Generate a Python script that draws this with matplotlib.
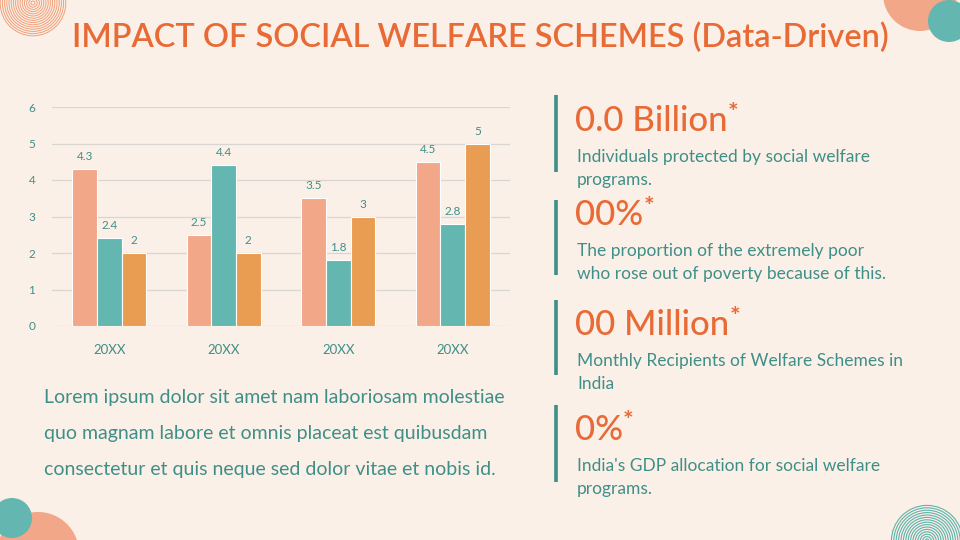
import matplotlib
matplotlib.use("Agg")
import matplotlib.pyplot as plt
from matplotlib.patches import Circle
import numpy as np

# data
categories = ["20XX", "20XX", "20XX", "20XX"]
series_1 = [4.3, 2.5, 3.5, 4.5]
series_2 = [2.4, 4.4, 1.8, 2.8]
series_3 = [2.0, 2.0, 3.0, 5.0]
y_ticks = [0, 1, 2, 3, 4, 5, 6]

stats = ["0.0 Billion", "00%", "00 Million", "0%"]
stat_notes = [
    "Individuals protected by social welfare\nprograms.",
    "The proportion of the extremely poor\nwho rose out of poverty because of this.",
    "Monthly Recipients of Welfare Schemes in\nIndia",
    "India's GDP allocation for social welfare\nprograms.",
]
body = ["Lorem ipsum dolor sit amet nam laboriosam molestiae",
        "quo magnam labore et omnis placeat est quibusdam",
        "consectetur et quis neque sed dolor vitae et nobis id."]

BG = "#FBF0E8"
SALMON = "#F2A788"
TEAL = "#64B6B0"
ORANGE = "#E99D52"
TITLE = "#E86A35"
TEXT = "#3E8F88"
W, H = 960, 540

plt.rcParams["font.family"] = ["Lato", "DejaVu Sans"]

fig = plt.figure(figsize=(9.6, 5.4), dpi=100, facecolor=BG)

# background layer for decorations (pixel coords)
bg = fig.add_axes([0, 0, 1, 1], zorder=0)
bg.set_xlim(0, W)
bg.set_ylim(H, 0)
bg.axis("off")
bg.add_patch(Circle((920, -6), 37, color=SALMON, lw=0))
bg.add_patch(Circle((949, 21), 21, color=TEAL, lw=0))
bg.add_patch(Circle((38, 553), 41, color=SALMON, lw=0))
bg.add_patch(Circle((12, 518), 20, color=TEAL, lw=0))
for r in np.arange(2, 34, 2.2):
    bg.add_patch(Circle((33, 3), r, fill=False, ec="#F0A07A", lw=0.7))
for r in np.arange(2, 38, 2.4):
    bg.add_patch(Circle((927, 541), r, fill=False, ec="#5FB3AC", lw=0.8))

# title
fig.text(0.5, 1 - 38 / H, "IMPACT OF SOCIAL WELFARE SCHEMES (Data-Driven)",
         ha="center", va="center", fontsize=23.4, fontweight="semibold", color=TITLE)

# bar chart
ax = fig.add_axes([52 / W, 1 - 326 / H, 458 / W, 219 / H], zorder=2)
ax.set_facecolor("none")
x = np.arange(len(categories))
bw = 0.215
for i, (vals, col) in enumerate([(series_1, SALMON), (series_2, TEAL), (series_3, ORANGE)]):
    bars = ax.bar(x + (i - 1) * bw, vals, bw, color=col, edgecolor="white", linewidth=0.8, zorder=3)
    for b, v in zip(bars, vals):
        ax.annotate(f"{v:g}", (b.get_x() + b.get_width() / 2, v), xytext=(0, 5),
                    textcoords="offset points", ha="center", va="bottom",
                    fontsize=8.5, color=TEXT)
ax.set_xlim(-0.5, len(categories) - 0.5)
ax.set_ylim(0, 6)
ax.set_yticks(y_ticks)
ax.set_xticks(x)
ax.set_xticklabels(categories)
ax.grid(axis="y", color="#D9D6D2", lw=0.9, zorder=0)
for s in ax.spines.values():
    s.set_visible(False)
ax.tick_params(length=0, colors=TEXT, labelsize=8.5)
ax.tick_params(axis="x", pad=13, labelsize=9.5)
ax.tick_params(axis="y", pad=12)

# body paragraph
for k, line in enumerate(body):
    fig.text(44 / W, 1 - (398 + 36 * k) / H, line, ha="left", va="center",
             fontsize=14, color=TEXT)

# stat blocks on the right
stat_y = [121, 215, 325, 430]
bar_spans = [(95, 172), (200, 275), (300, 375), (405, 482)]
fig.canvas.draw()
renderer = fig.canvas.get_renderer()
for s, note, yc, (y0, y1) in zip(stats, stat_notes, stat_y, bar_spans):
    bg.plot([556, 556], [y0, y1], color=TEXT, lw=2.6, solid_capstyle="butt")
    t = fig.text(575 / W, 1 - yc / H, s, ha="left", va="center", fontsize=25,
                 fontweight="medium", color=TITLE)
    ext = t.get_window_extent(renderer)
    fig.text(ext.x1 / W, 1 - (yc - 8) / H, "*", ha="left", va="center",
             fontsize=18, fontweight="bold", color=TITLE)
    fig.text(577 / W, 1 - (yc + 36) / H, note.split("\n")[0], ha="left", va="center",
             fontsize=12.5, color=TEXT)
    fig.text(577 / W, 1 - (yc + 59) / H, note.split("\n")[1], ha="left", va="center",
             fontsize=12.5, color=TEXT)

fig.savefig("out.png", dpi=100, facecolor=BG)
